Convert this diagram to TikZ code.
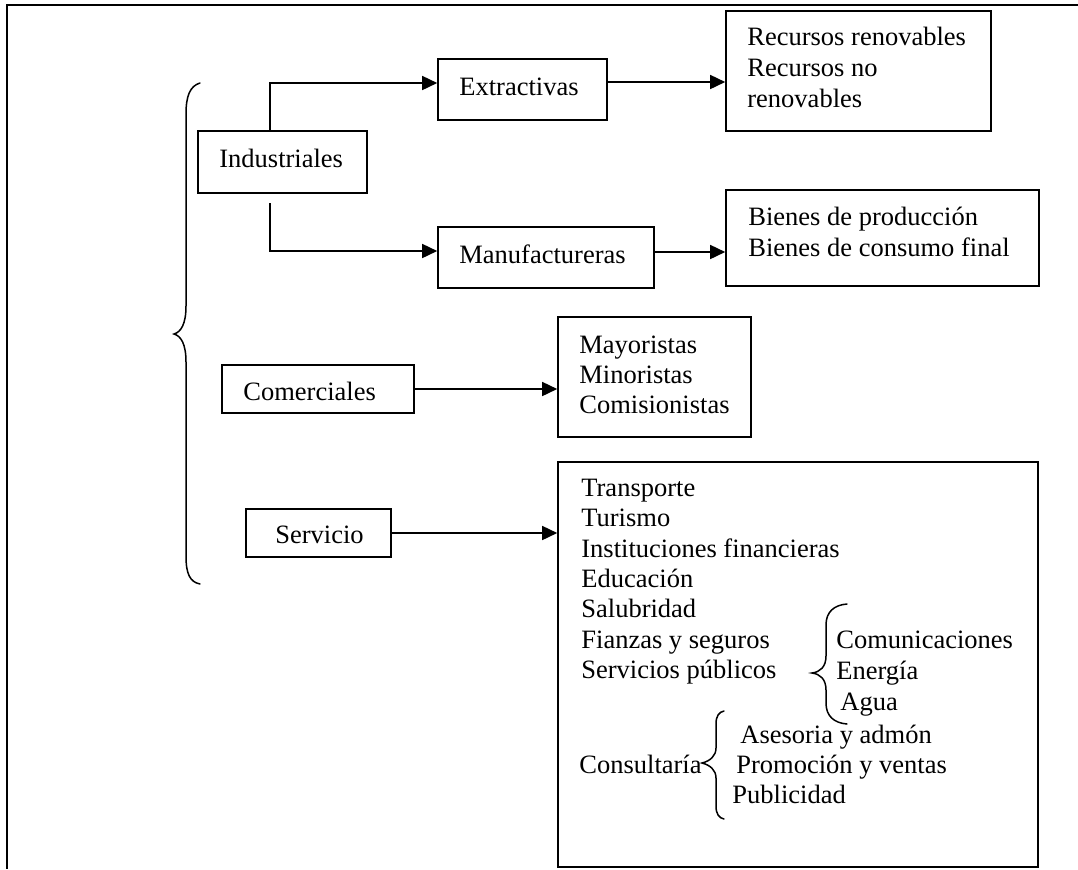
\documentclass[tikz,border=0pt]{standalone}
\usepackage{fontspec}
\setmainfont{Liberation Serif}
\usetikzlibrary{arrows.meta,fit}
\begin{document}
\begin{tikzpicture}[x=0.5pt,y=-0.5pt,
  box/.style={draw=black, line width=0.8pt, inner sep=0pt, fill=none},
  txt/.style={inner sep=0pt, font=\fontsize{13.25pt}{15.15pt}\selectfont},
  arr/.style={draw=black, line width=0.8pt, -{Triangle[length=7.5pt,width=7pt]}},
  brace/.style={draw=black, line width=0.75pt, line cap=round},
  frame/.style={draw=black, line width=1.3pt}]
\useasboundingbox (0,0) rectangle (1078,869);
% page frame (top and left rules)
\draw[frame] (1078,5) -- (7,5) -- (7,869);

% boxes
\node[box, fit={(198,131) (367,193)}] (ind) {};
\node[box, fit={(438,59) (607,120)}] (ext) {};
\node[box, fit={(726,11) (991,131)}] (rec) {};
\node[box, fit={(438,227) (654,288)}] (man) {};
\node[box, fit={(726,190) (1039,286)}] (bien) {};
\node[box, fit={(222,365) (414,413)}] (com) {};
\node[box, fit={(558,317) (751,437)}] (may) {};
\node[box, fit={(246,509) (391,557)}] (serv) {};
\node[box, fit={(558,462) (1038,867)}] (big) {};

% box labels
\node[txt, anchor=base west] (tind) at (219,167) {Industriales};
\node[txt, anchor=base west] (text) at (459,95) {Extractivas};
\node[txt, anchor=base west] (tman) at (459,263) {Manufactureras};
\node[txt, anchor=base west] (tcom) at (243,400) {Comerciales};
\node[txt, anchor=base west] (tserv) at (275,543) {Servicio};

\node[txt, anchor=base west] (r1) at (747,45) {Recursos renovables};
\node[txt, anchor=base west] (r2) at (747,76) {Recursos no};
\node[txt, anchor=base west] (r3) at (747,107) {renovables};

\node[txt, anchor=base west] (b1) at (748,225) {Bienes de producción};
\node[txt, anchor=base west] (b2) at (748,256) {Bienes de consumo final};

\node[txt, anchor=base west] (m1) at (579,353) {Mayoristas};
\node[txt, anchor=base west] (m2) at (579,383) {Minoristas};
\node[txt, anchor=base west] (m3) at (579,413) {Comisionistas};

\node[txt, anchor=base west] (s1) at (581,496) {Transporte};
\node[txt, anchor=base west] (s2) at (581,526) {Turismo};
\node[txt, anchor=base west] (s3) at (581,557) {Instituciones financieras};
\node[txt, anchor=base west] (s4) at (581,587) {Educación};
\node[txt, anchor=base west] (s5) at (581,617) {Salubridad};
\node[txt, anchor=base west] (s6) at (581,648) {Fianzas y seguros};
\node[txt, anchor=base west] (s7) at (581,678) {Servicios públicos};
\node[txt, anchor=base west] (p1) at (836,648) {Comunicaciones};
\node[txt, anchor=base west] (p2) at (836,679) {Energía};
\node[txt, anchor=base west] (p3) at (840,710) {Agua};
\node[txt, anchor=base west] (c0) at (579,773) {Consultaría};
\node[txt, anchor=base west] (c1) at (740,743) {Asesoria y admón};
\node[txt, anchor=base west] (c2) at (736,773) {Promoción y ventas};
\node[txt, anchor=base west] (c3) at (732,803) {Publicidad};

% connectors
\coordinate (indtail) at (270,203);
\draw[arr] (ind.north -| 270,0) |- (ext.west |- 0,83);
\draw[arr] (indtail) |- (man.west |- 0,251);
\draw[arr] (ext.east |- 0,82) -- (rec.west |- 0,82);
\draw[arr] (man.east |- 0,252) -- (bien.west |- 0,252);
\draw[arr] (com.east) -- (may.west |- com.east);
\draw[arr] (serv.east) -- (big.west |- serv.east);

% braces
\draw[brace] (200,83) .. controls (190,86) and (186,96) .. (186,114)
  -- (186,306) .. controls (186,324) and (181,332) .. (174,334)
  .. controls (181,336) and (186,344) .. (186,362)
  -- (186,556) .. controls (186,574) and (190,582) .. (200,584);
\draw[brace] (847,604) .. controls (834,605) and (826,612) .. (826,625)
  -- (826,656) .. controls (826,667) and (820,672) .. (812,673)
  .. controls (820,674) and (826,679) .. (826,690)
  -- (826,703) .. controls (826,716) and (834,723) .. (847,724);
\draw[brace] (724,711) .. controls (719,712) and (716,716) .. (716,724)
  -- (716,748) .. controls (716,756) and (710,761) .. (702,763)
  .. controls (710,765) and (716,770) .. (716,778)
  -- (716,806) .. controls (716,814) and (719,818) .. (724,819);
\end{tikzpicture}
\end{document}
